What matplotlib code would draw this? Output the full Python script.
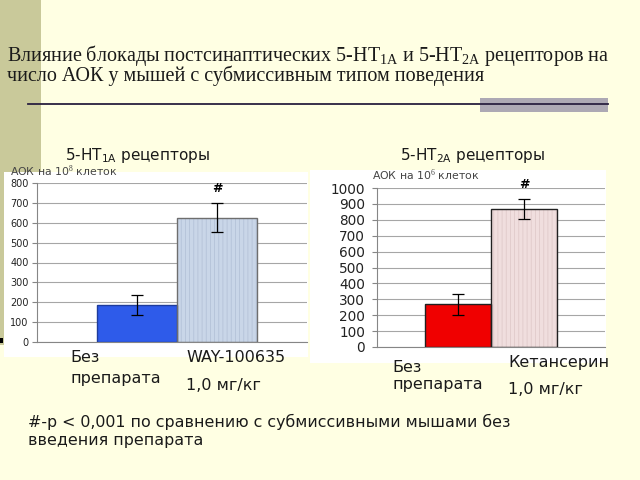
import numpy as np
import matplotlib
matplotlib.use('Agg')
import matplotlib.pyplot as plt
from matplotlib.patches import Rectangle

plt.rcParams['font.family'] = ['DejaVu Sans']
plt.rcParams['mathtext.fontset'] = 'custom'
plt.rcParams['mathtext.rm'] = 'Liberation Serif'
plt.rcParams['mathtext.sf'] = 'DejaVu Sans'
plt.rcParams['hatch.linewidth'] = 0.6

# data
groups_1a = ['Без препарата', 'WAY-100635']
values_1a = [185, 625]
errors_1a = [50, 73]
groups_2a = ['Без препарата', 'Кетансерин']
values_2a = [268, 870]
errors_2a = [68, 63]
yticks_1a = np.arange(0, 801, 100)
yticks_2a = np.arange(0, 1001, 100)

W, H = 640, 480
BG = '#FFFFE3'

fig = plt.figure(figsize=(6.4, 4.8), dpi=100, facecolor=BG)


def fx(x):
    return x / W


def fy(y):
    return 1 - y / H


def box(x0, y0, x1, y1, **kw):
    fig.patches.append(Rectangle((fx(x0), fy(y1)), fx(x1 - x0), (y1 - y0) / H,
                                 transform=fig.transFigure, **kw))


def txt(x, y, s, **kw):
    fig.text(fx(x), fy(y), s, zorder=5, **kw)


# left strip and separator line
box(0, 0, 41, 345, facecolor='#C9C99A', edgecolor='none', zorder=-3)
box(0, 338, 3, 343, facecolor='black', edgecolor='none', zorder=-3)
box(480, 98, 608, 112, facecolor='#ADA9B4', edgecolor='none', zorder=-2)
fig.add_artist(plt.Line2D([fx(28), fx(608)], [fy(104), fy(104)], color='#2A2040', lw=1.3, zorder=2))

# title
txt(7, 55, r'Влияние блокады постсинаптических 5-HT$_{\mathrm{1A}}$ и 5-HT$_{\mathrm{2A}}$ рецепторов на',
    fontsize=14.5, family='Liberation Serif', va='center', color='#1A1A1A')
txt(7, 76, 'число АОК у мышей с субмиссивным типом поведения',
    fontsize=14.5, family='Liberation Serif', va='center', color='#1A1A1A')

# white panels
box(4, 172, 308, 357, facecolor='white', edgecolor='none', zorder=-2)
box(310, 170, 606, 363, facecolor='white', edgecolor='none', zorder=-2)


def panel(rect, vals, errs, yticks, ymax, xlim, colors, hatch_colors, edges, tick_fs, pad):
    l, t, r, b = rect
    ax = fig.add_axes([fx(l), fy(b), fx(r - l), (b - t) / H], zorder=1)
    ax.set_facecolor('white')
    x = np.arange(len(vals))
    for i in x:
        ax.bar(i, vals[i], width=1.0, color=colors[i], edgecolor=hatch_colors[i],
               hatch=('||||' if hatch_colors[i] != 'none' else None), lw=0, zorder=2)
        ax.bar(i, vals[i], width=1.0, facecolor='none', edgecolor=edges[i], lw=1.0, zorder=3)
    ax.errorbar(x, vals, yerr=errs, fmt='none', ecolor='black', elinewidth=0.9,
                capsize=4, capthick=0.9, zorder=4)
    ax.set_ylim(0, ymax)
    ax.set_xlim(*xlim)
    ax.set_yticks(yticks)
    ax.set_xticks([])
    ax.yaxis.grid(True, color='#A6A6A6', lw=0.8, zorder=1)
    ax.set_axisbelow(True)
    for s in ['top', 'right']:
        ax.spines[s].set_visible(False)
    ax.spines['left'].set_color('#868686')
    ax.spines['bottom'].set_color('#868686')
    ax.tick_params(axis='y', labelsize=tick_fs, colors='#868686', labelcolor='#222222',
                   length=3.5, width=0.8, pad=pad)
    ax.text(1, vals[1] + errs[1] + 0.09 * ymax, '#', ha='center', va='center',
            fontsize=9, fontweight='bold', clip_on=False)
    return ax


panel((37, 183, 307, 342), values_1a, errors_1a, yticks_1a, 800, (-1.25, 2.125),
      ['#2E5BEA', '#C9D6E8'], ['none', '#B4C2D8'], ['#1E3C9C', '#6E6E6E'], 7, 2.5)
panel((377, 188, 605, 347), values_2a, errors_2a, yticks_2a, 1000, (-1.23, 2.22),
      ['#F00000', '#F0DEDE'], ['none', '#E0CACA'], ['#202020', '#202020'], 9.8, 5)

# axis captions
txt(10, 171, 'АОК на 10$^{8}$ клеток', fontsize=7.8, color='#444444', va='center')
txt(372, 175, 'АОК на 10$^{6}$ клеток', fontsize=7.8, color='#444444', va='center')

# subtitles
txt(65, 155, r'5-HT$_{\mathsf{1A}}$ рецепторы', fontsize=11, va='center', color='#1A1A1A')
txt(400, 155, r'5-HT$_{\mathsf{2A}}$ рецепторы', fontsize=11, va='center', color='#1A1A1A')

# category labels
cat_kw = dict(fontsize=11.5, va='center', color='#1A1A1A')
txt(70, 357, 'Без', **cat_kw)
txt(70, 378, 'препарата', **cat_kw)
txt(186, 357, groups_1a[1], **cat_kw)
txt(186, 385, '1,0 мг/кг', **cat_kw)
txt(392, 367, 'Без', **cat_kw)
txt(392, 385, 'препарата', **cat_kw)
txt(508, 362, groups_2a[1], **cat_kw)
txt(508, 389, '1,0 мг/кг', **cat_kw)

# footnote
txt(28, 422, '#-p < 0,001 по сравнению с субмиссивными мышами без', fontsize=11.4,
    va='center', color='#1A1A1A')
txt(28, 440, 'введения препарата', fontsize=11.4, va='center', color='#1A1A1A')

fig.savefig('out.png', dpi=100, facecolor=BG)
